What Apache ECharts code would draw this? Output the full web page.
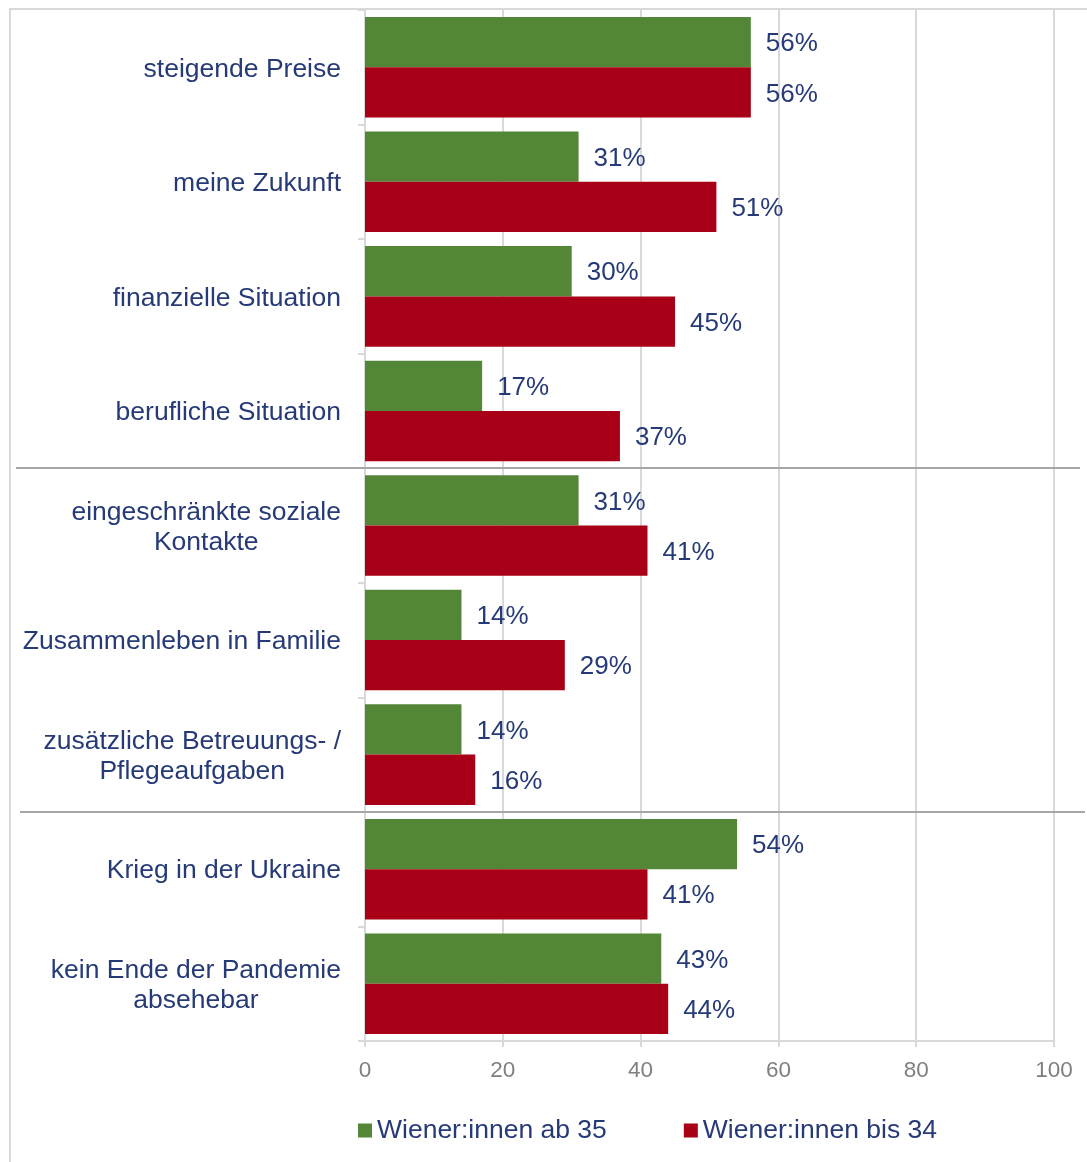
<!DOCTYPE html>
<html>
<head>
<meta charset="utf-8">
<script src="https://cdn.jsdelivr.net/npm/echarts@6/dist/echarts.min.js"></script>
<style>
html,body{margin:0;padding:0;background:#fff;}
#chart{width:1087px;height:1162px;}
</style>
</head>
<body>
<div id="chart"></div>
<script>
var categories = [
  "steigende Preise",
  "meine Zukunft",
  "finanzielle Situation",
  "berufliche Situation",
  "eingeschränkte soziale\nKontakte",
  "Zusammenleben in Familie",
  "zusätzliche Betreuungs- /\nPflegeaufgaben",
  "Krieg in der Ukraine",
  "kein Ende der Pandemie\nabsehebar"
];
var seriesNames = ["Wiener:innen ab 35", "Wiener:innen bis 34"];
var valuesAb35 = [56, 31, 30, 17, 31, 14, 14, 54, 43];
var valuesBis34 = [56, 51, 45, 37, 41, 29, 16, 41, 44];
var xTicks = [0, 20, 40, 60, 80, 100];
var groupBreaks = [4, 7]; // separator lines after these category counts

var FONT = '"Liberation Sans", Arial, sans-serif';
var NAVY = '#263a78';
var GREEN = '#538636';
var RED = '#a80016';

var chart = echarts.init(document.getElementById('chart'), null, {renderer: 'canvas'});

var barLabel = {show: true, position: 'right', distance: 15, offset: [0, 2], formatter: '{c}%', fontFamily: FONT, fontSize: 26, color: NAVY};

var option = {
  animation: false,
  backgroundColor: '#fff',
  textStyle: {fontFamily: FONT},
  grid: {left: 365, right: 33, top: 10, bottom: 121, containLabel: false},
  legend: {
    data: seriesNames,
    left: 353,
    top: 1112,
    itemWidth: 14,
    itemHeight: 14,
    itemGap: 77,
    icon: 'rect',
    textStyle: {fontFamily: FONT, fontSize: 26.5, color: NAVY}
  },
  xAxis: {
    type: 'value',
    min: xTicks[0],
    max: xTicks[xTicks.length - 1],
    interval: 20,
    axisLine: {show: true, lineStyle: {color: '#d9d9d9', width: 2}},
    axisTick: {show: true, length: 6, lineStyle: {color: '#d9d9d9', width: 2}},
    splitLine: {show: true, lineStyle: {color: '#d9d9d9', width: 2}},
    axisLabel: {fontFamily: FONT, fontSize: 22.5, color: '#7f7f7f', margin: 18}
  },
  yAxis: {
    type: 'category',
    inverse: true,
    data: categories,
    axisLine: {show: true, lineStyle: {color: '#d9d9d9', width: 2}},
    axisTick: {show: true, length: 7, lineStyle: {color: '#d9d9d9', width: 2}},
    axisLabel: {
      margin: 24,
      padding: [4, 0, 0, 0],
      formatter: function (v) {
        return v.split('\n').map(function (l) { return '{c|' + l + '}'; }).join('\n');
      },
      rich: {c: {align: 'center', fontFamily: FONT, fontSize: 26.5, color: NAVY, lineHeight: 30}}
    }
  },
  series: [
    {
      name: seriesNames[0],
      type: 'bar',
      data: valuesAb35,
      barGap: '0%',
      barCategoryGap: '12.2%',
      itemStyle: {color: GREEN},
      label: barLabel
    },
    {
      name: seriesNames[1],
      type: 'bar',
      data: valuesBis34,
      barGap: '0%',
      barCategoryGap: '12.2%',
      itemStyle: {color: RED},
      label: barLabel
    }
  ]
};
chart.setOption(option);

// separator lines between category groups, positioned via the axis scale
var graphics = [{
  type: 'rect',
  shape: {x: 10, y: 9, width: 1200, height: 1300},
  style: {fill: null, stroke: '#d9d9d9', lineWidth: 2},
  silent: true,
  z: -1
}];
var extents = [[16, 1080], [20, 1085]];
groupBreaks.forEach(function (b, i) {
  var yA = chart.convertToPixel({yAxisIndex: 0}, b - 1);
  var yB = chart.convertToPixel({yAxisIndex: 0}, b);
  var y = Math.round((yA + yB) / 2);
  graphics.push({
    type: 'line',
    shape: {x1: extents[i][0], y1: y, x2: extents[i][1], y2: y},
    style: {stroke: '#a6a6a6', lineWidth: 2},
    silent: true,
    z: 10
  });
});
chart.setOption({graphic: graphics});
</script>
</body>
</html>
